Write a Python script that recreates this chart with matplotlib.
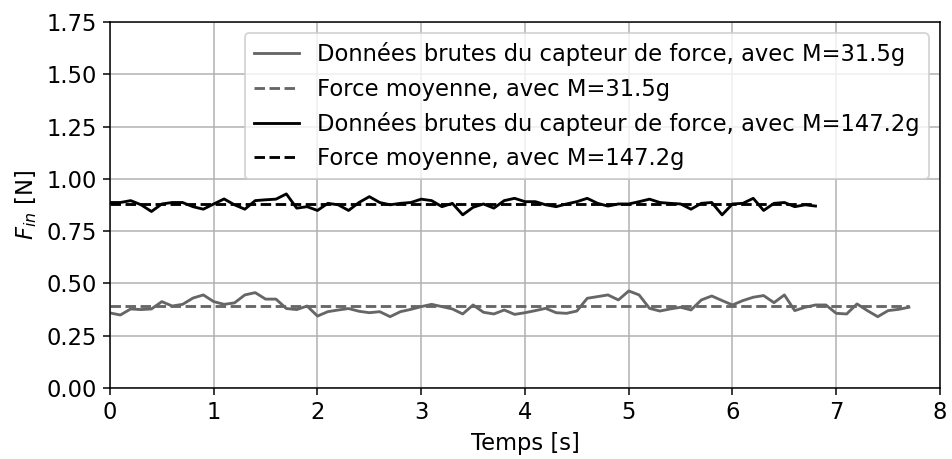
import numpy as np
import matplotlib
matplotlib.use('Agg')
import matplotlib.pyplot as plt

plt.rcParams['font.size'] = 12

dt = 0.1

# Force sensor readings (N), one sample every 0.1 s
force_light = [
    0.359, 0.349, 0.378, 0.375, 0.378, 0.413, 0.392, 0.400, 0.430, 0.445,
    0.413, 0.400, 0.407, 0.445, 0.456, 0.425, 0.425, 0.380, 0.375, 0.392,
    0.344, 0.365, 0.373, 0.380, 0.367, 0.360, 0.365, 0.341,
    0.365, 0.376, 0.389, 0.400, 0.389, 0.378, 0.354, 0.397, 0.362, 0.354,
    0.373, 0.352, 0.360, 0.370, 0.381, 0.360, 0.357, 0.368, 0.429, 0.437,
    0.445, 0.421, 0.464, 0.445, 0.381, 0.368, 0.378, 0.386,
    0.373, 0.421, 0.440, 0.418, 0.397, 0.418, 0.434, 0.442, 0.408, 0.445,
    0.370, 0.386, 0.397, 0.397, 0.357, 0.354, 0.402, 0.370, 0.341, 0.370,
    0.376, 0.386,
]

force_heavy = [
    0.887, 0.887, 0.896, 0.876, 0.844, 0.880, 0.887, 0.887, 0.867, 0.855,
    0.880, 0.904, 0.876, 0.855, 0.896, 0.900, 0.903, 0.928, 0.860, 0.867,
    0.849, 0.883, 0.876, 0.849, 0.887, 0.915, 0.887, 0.876, 0.883,
    0.887, 0.903, 0.896, 0.867, 0.883, 0.828, 0.864, 0.880, 0.860, 0.896,
    0.907, 0.891, 0.891, 0.876, 0.867, 0.880, 0.891, 0.907, 0.883, 0.870,
    0.880, 0.880, 0.891, 0.903, 0.887, 0.883, 0.880,
    0.855, 0.883, 0.887, 0.828, 0.880, 0.883, 0.907, 0.849, 0.883, 0.887,
    0.867, 0.876, 0.870,
]

t_light = np.arange(len(force_light)) * dt
t_heavy = np.arange(len(force_heavy)) * dt
mean_light = np.mean(force_light)
mean_heavy = np.mean(force_heavy)

grey = '#666666'

fig = plt.figure(figsize=(7, 3.375), dpi=136)
ax = fig.add_axes([0.1155, 0.1547, 0.8719, 0.7973])

ax.plot(t_light, force_light, color=grey, lw=1.5,
        label='Données brutes du capteur de force, avec M=31.5g')
ax.plot([t_light[0], t_light[-1]], [mean_light, mean_light], color=grey, lw=1.5, ls='--',
        label='Force moyenne, avec M=31.5g')
ax.plot(t_heavy, force_heavy, color='black', lw=1.5,
        label='Données brutes du capteur de force, avec M=147.2g')
ax.plot([t_heavy[0], t_heavy[-1]], [mean_heavy, mean_heavy], color='black', lw=1.5, ls='--',
        label='Force moyenne, avec M=147.2g')

ax.set_xlim(0, 8)
ax.set_ylim(0, 1.75)
ax.set_yticks(np.arange(0, 1.76, 0.25))
ax.grid(True)
ax.set_xlabel('Temps [s]')
ax.set_ylabel('$F_{in}$ [N]')
ax.legend(loc='upper right')

plt.savefig('out.png', dpi=136)
